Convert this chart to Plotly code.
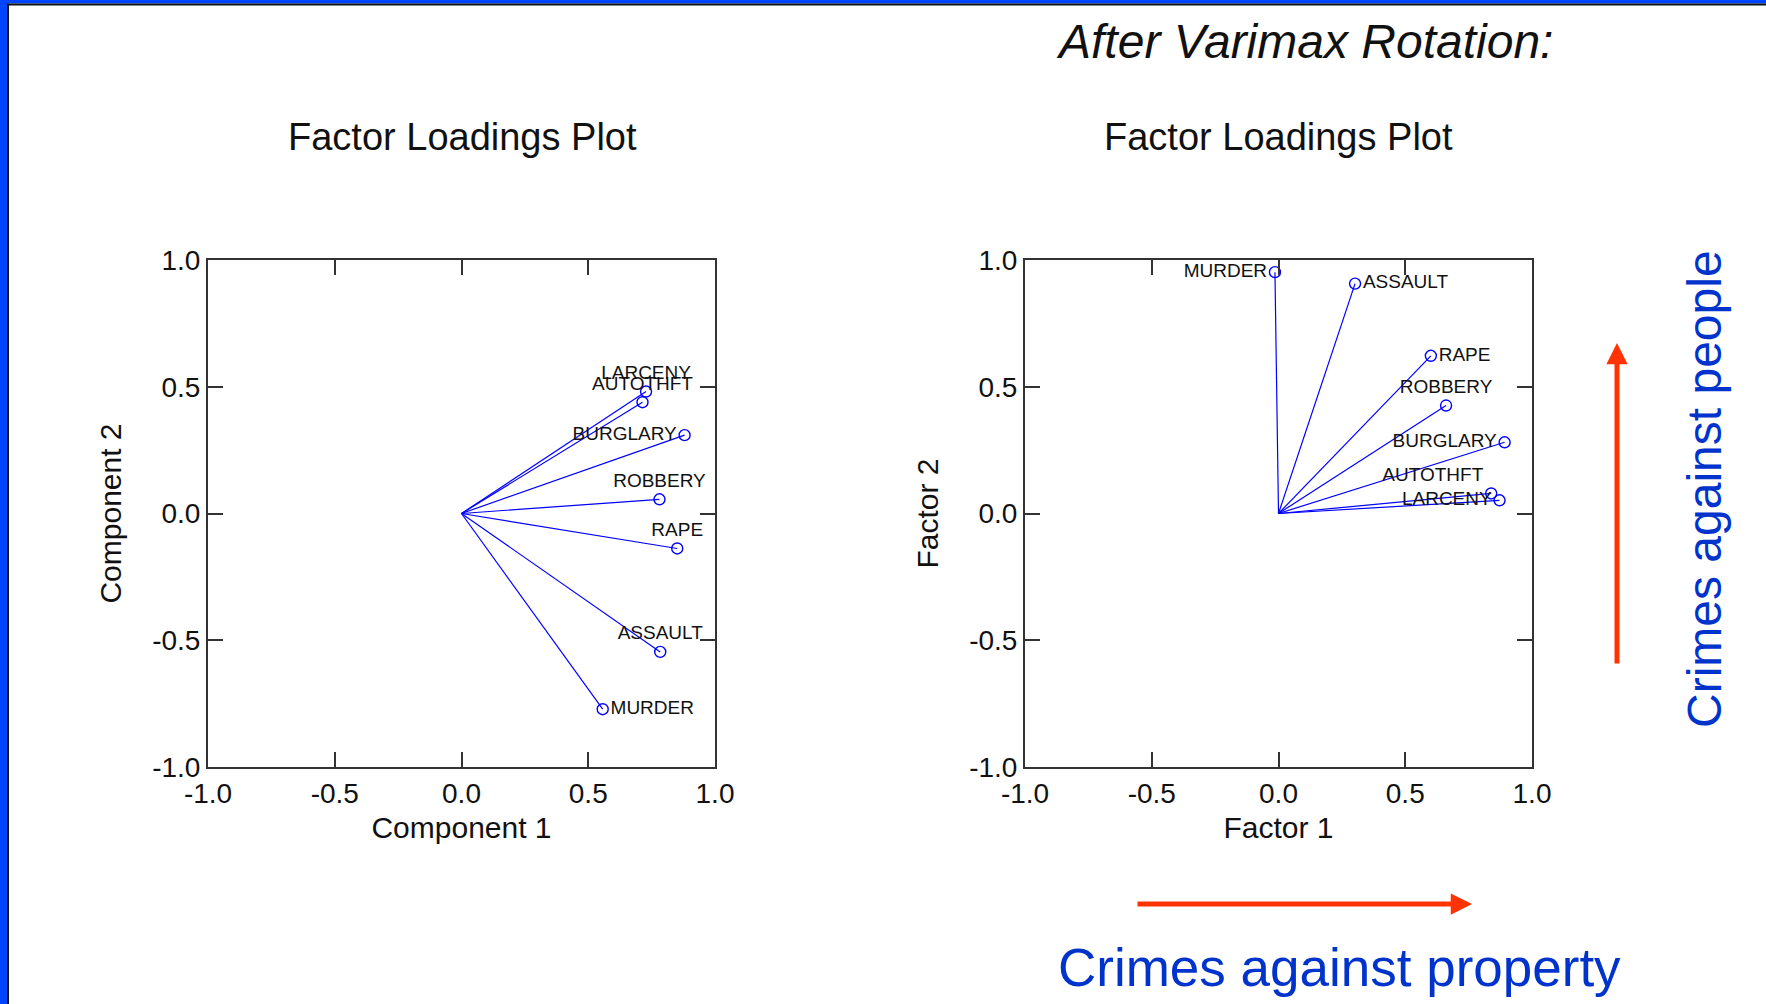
import plotly.graph_objects as go

W, H = 1766, 1004

# ---------------- data ----------------
crimes = ["MURDER", "RAPE", "ROBBERY", "ASSAULT", "BURGLARY", "LARCENY", "AUTOTHFT"]
component1 = [0.557, 0.851, 0.781, 0.784, 0.880, 0.728, 0.714]
component2 = [-0.772, -0.138, 0.056, -0.546, 0.309, 0.481, 0.439]
factor1 = [-0.014, 0.601, 0.661, 0.302, 0.892, 0.872, 0.839]
factor2 = [0.952, 0.622, 0.426, 0.907, 0.281, 0.052, 0.079]
tick_vals = [-1.0, -0.5, 0.0, 0.5, 1.0]
tick_text = ["-1.0", "-0.5", "0.0", "0.5", "1.0"]

# label placement (style)
left_pos = ["middle right", "top center", "top center", "top center",
            "middle left", "top center", "top center"]
right_pos = ["middle left", "middle right", "top center", "middle right",
             "middle left", "middle left", "top left"]

FONT = "Arial, Liberation Sans, Helvetica, sans-serif"
BLUE = "#0000ff"


def px_x(p):
    return p / W


def px_y(p):
    return 1 - p / H


def spokes(xs, ys):
    lx, ly = [], []
    for a, b in zip(xs, ys):
        lx += [0, a, None]
        ly += [0, b, None]
    return lx, ly


fig = go.Figure()

for xs, ys, pos, xa, ya in [
    (component1, component2, left_pos, "x", "y"),
    (factor1, factor2, right_pos, "x2", "y2"),
]:
    lx, ly = spokes(xs, ys)
    fig.add_trace(go.Scatter(x=lx, y=ly, mode="lines",
                             line=dict(color=BLUE, width=1.2),
                             xaxis=xa, yaxis=ya, hoverinfo="skip",
                             showlegend=False))
    fig.add_trace(go.Scatter(x=xs, y=ys, mode="markers+text", text=crimes,
                             textposition=pos,
                             textfont=dict(family=FONT, size=19, color="#111"),
                             marker=dict(symbol="circle-open", size=11,
                                         color=BLUE, line=dict(width=1.4, color=BLUE)),
                             xaxis=xa, yaxis=ya, showlegend=False))

axis_common = dict(range=[-1, 1], tickvals=tick_vals, ticktext=tick_text,
                   ticks="inside", ticklen=15, tickwidth=1.5, tickcolor="#333",
                   showline=True, linecolor="#333", linewidth=2, mirror="ticks",
                   showgrid=False, zeroline=False, automargin=False,
                   tickfont=dict(family=FONT, size=28, color="#111"))

ydom = [px_y(767), px_y(260)]
fig.update_layout(
    width=W, height=H, autosize=False,
    margin=dict(l=0, r=0, t=0, b=0, pad=0),
    paper_bgcolor="white", plot_bgcolor="white",
    xaxis=dict(domain=[px_x(208), px_x(715)], anchor="y",
               title=dict(text="Component 1", font=dict(family=FONT, size=30, color="#111"), standoff=9),
               **axis_common),
    yaxis=dict(domain=ydom, anchor="x",
               title=dict(text="Component 2", font=dict(family=FONT, size=30, color="#111"), standoff=22),
               **axis_common),
    xaxis2=dict(domain=[px_x(1025), px_x(1532)], anchor="y2",
                title=dict(text="Factor 1", font=dict(family=FONT, size=30, color="#111"), standoff=9),
                **axis_common),
    yaxis2=dict(domain=ydom, anchor="x2",
                title=dict(text="Factor 2", font=dict(family=FONT, size=30, color="#111"), standoff=22),
                **axis_common),
)

annotations = [
    dict(text="<i>After Varimax Rotation:</i>", x=px_x(1304), y=px_y(42),
         font=dict(family=FONT, size=48, color="#111")),
    dict(text="Factor Loadings Plot", x=px_x(462), y=px_y(137),
         font=dict(family=FONT, size=38, color="#111")),
    dict(text="Factor Loadings Plot", x=px_x(1278), y=px_y(137),
         font=dict(family=FONT, size=38, color="#111")),
    dict(text="Crimes against property", x=px_x(1339), y=px_y(967),
         font=dict(family=FONT, size=53, color="#0033cc")),
    dict(text="Crimes against people", x=px_x(1704), y=px_y(489), textangle=-90,
         font=dict(family=FONT, size=48, color="#0033cc")),
]
for a in annotations:
    a.update(xref="paper", yref="paper", showarrow=False,
             xanchor="center", yanchor="middle")

# red arrows
annotations.append(dict(x=px_x(1472), y=px_y(904), xref="paper", yref="paper",
                        ax=-336, ay=0, text="", showarrow=True, arrowhead=2,
                        arrowsize=0.85, arrowwidth=5, arrowcolor="#ff3300"))
annotations.append(dict(x=px_x(1617), y=px_y(343), xref="paper", yref="paper",
                        ax=0, ay=322, text="", showarrow=True, arrowhead=2,
                        arrowsize=0.85, arrowwidth=5, arrowcolor="#ff3300"))
fig.update_layout(annotations=annotations)

# slide border (blue frame with black inner line)
shapes = [
    dict(type="rect", xref="paper", yref="paper", x0=0, x1=px_x(7), y0=0, y1=1,
         fillcolor="#0044ff", line=dict(width=0), layer="above"),
    dict(type="rect", xref="paper", yref="paper", x0=0, x1=1, y0=px_y(3.5), y1=1,
         fillcolor="#0044ff", line=dict(width=0), layer="above"),
    dict(type="rect", xref="paper", yref="paper", x0=px_x(7), x1=px_x(9), y0=0, y1=px_y(3.5),
         fillcolor="#111", line=dict(width=0), layer="above"),
    dict(type="rect", xref="paper", yref="paper", x0=px_x(7), x1=1, y0=px_y(5.5), y1=px_y(3.5),
         fillcolor="#111", line=dict(width=0), layer="above"),
]
fig.update_layout(shapes=shapes)

fig.write_html(
    "out.html",
    config={"displayModeBar": False, "responsive": False},
    post_script="document.documentElement.style.margin='0';"
                "document.documentElement.style.overflow='hidden';"
                "document.body.style.margin='0';"
                "document.body.style.overflow='hidden';",
)
